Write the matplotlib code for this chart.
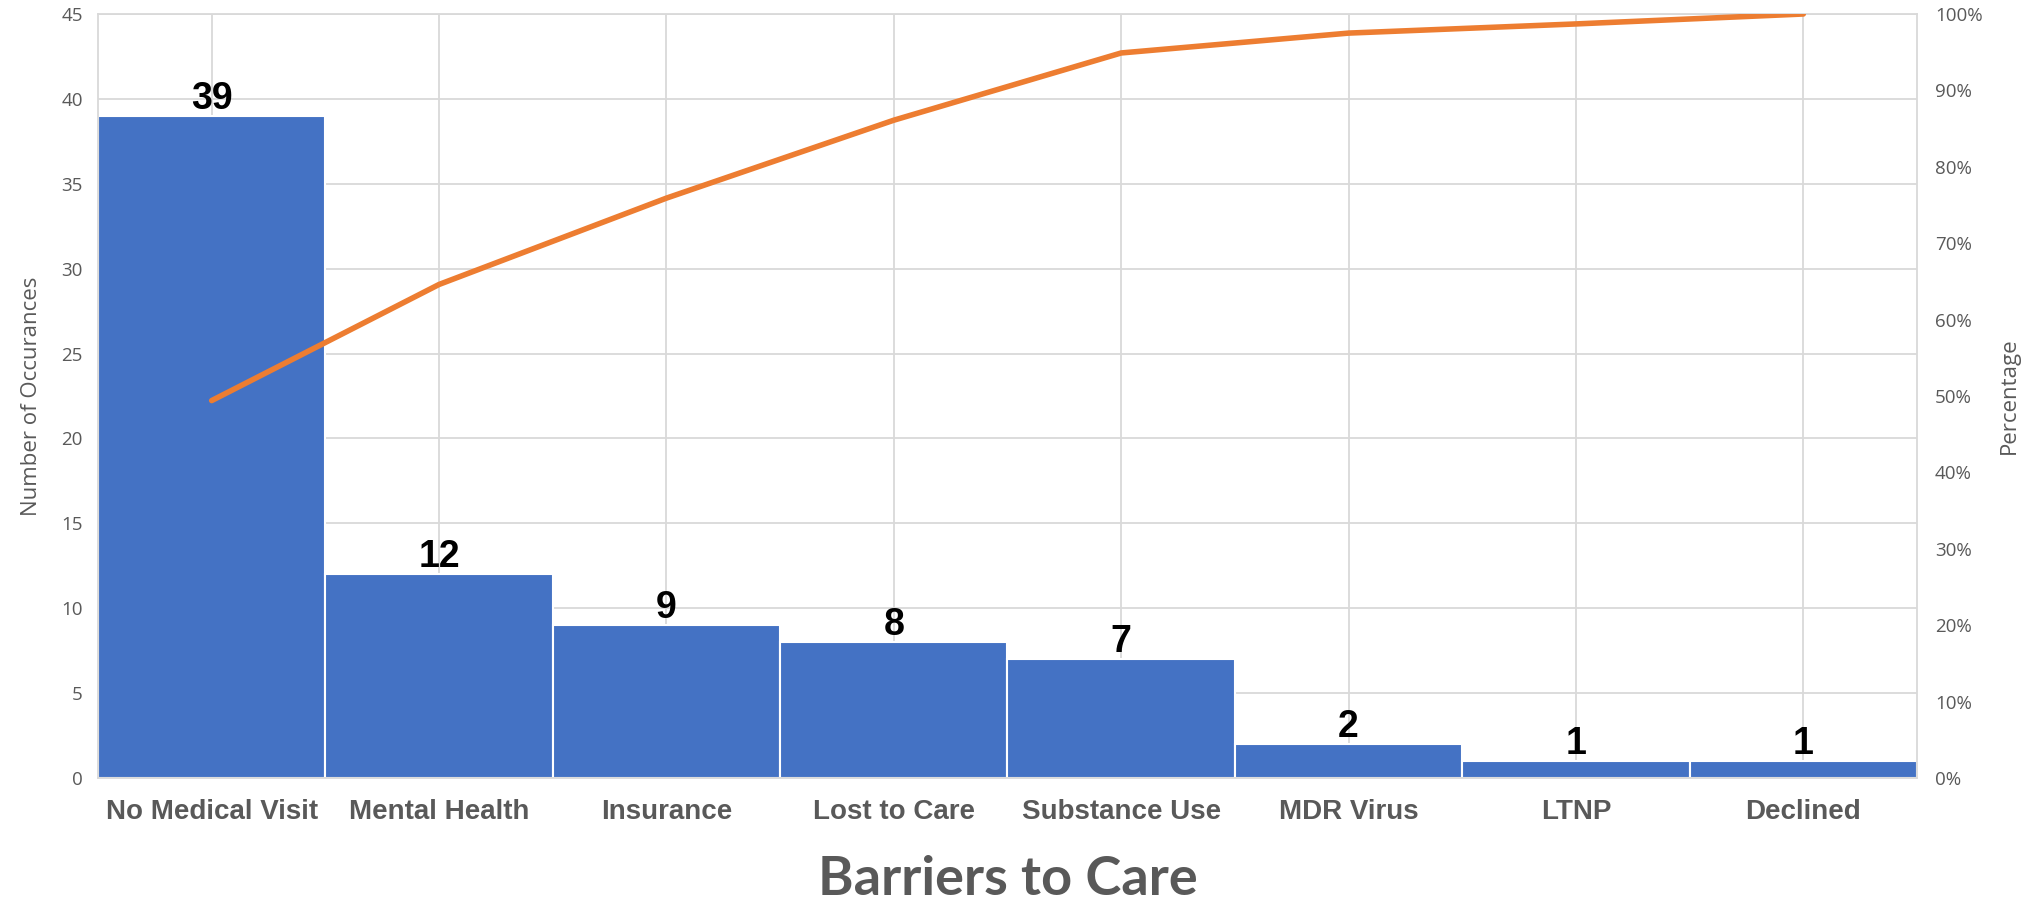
import matplotlib
matplotlib.use("Agg")
import matplotlib.pyplot as plt
from matplotlib.ticker import PercentFormatter

# data
categories = ["No Medical Visit", "Mental Health", "Insurance", "Lost to Care",
              "Substance Use", "MDR Virus", "LTNP", "Declined"]
counts = [39, 12, 9, 8, 7, 2, 1, 1]
cum_pct = [49.4, 64.6, 75.9, 86.1, 94.9, 97.5, 98.7, 100.0]

gray = "#595959"
grid = "#D9D9D9"

fig = plt.figure(figsize=(20.41, 9.07), dpi=100)
ax = fig.add_axes([98/2041, 1 - 778/907, (1917 - 98)/2041, (778 - 14)/907])

x = list(range(len(categories)))
ax.bar(x, counts, width=1.0, color="#4472C4", edgecolor="white", linewidth=1.5, zorder=2)

# value labels above bars
for xi, v in zip(x, counts):
    ax.annotate(str(v), (xi, v), xytext=(0, 5), textcoords="offset points",
                ha="center", va="baseline", fontsize=27, fontweight="bold",
                family=["Liberation Sans", "DejaVu Sans"], color="black", zorder=4)

ax.set_xlim(-0.5, len(categories) - 0.5)
ax.set_ylim(0, 45)
ax.set_yticks(range(0, 46, 5))
ax.set_xticks(x)
ax.set_xticklabels(categories, fontsize=20, fontweight="bold",
                   family=["Liberation Sans", "DejaVu Sans"], color=gray)
ax.tick_params(axis="x", length=0, pad=15)
ax.tick_params(axis="y", length=0, pad=11, labelsize=13.5, labelcolor=gray)
for lbl in ax.get_yticklabels():
    lbl.set_family(["Open Sans", "DejaVu Sans"])

ax.grid(True, color=grid, linewidth=1.3, zorder=0)
ax.set_axisbelow(True)
for s in ax.spines.values():
    s.set_color(grid)
    s.set_linewidth(1.3)

ax.set_ylabel("Number of Occurances", fontsize=16, color=gray,
              family=["Open Sans", "DejaVu Sans"], labelpad=14)

# cumulative percentage line
ax2 = ax.twinx()
ax2.plot(x, cum_pct, color="#ED7D31", linewidth=4, solid_capstyle="round", zorder=5)
ax2.set_ylim(0, 100)
ax2.set_yticks(range(0, 101, 10))
ax2.yaxis.set_major_formatter(PercentFormatter(decimals=0))
ax2.tick_params(axis="y", length=0, pad=13, labelsize=13.5, labelcolor=gray)
for lbl in ax2.get_yticklabels():
    lbl.set_family(["Open Sans", "DejaVu Sans"])
for s in ax2.spines.values():
    s.set_visible(False)
ax2.set_ylabel("Percentage", fontsize=16, color=gray,
               family=["Open Sans", "DejaVu Sans"], labelpad=12)

fig.text(1007.5/2041, 3/907, "Barriers to Care", ha="center", va="bottom",
         fontsize=39, fontweight="bold", color=gray, family=["Lato", "DejaVu Sans"])

fig.savefig("out.png", dpi=100)
